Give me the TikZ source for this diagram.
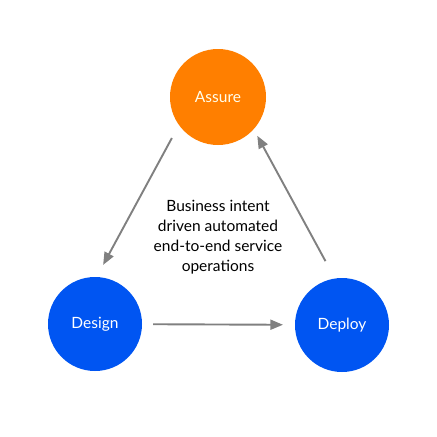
\documentclass[tikz,border=0pt]{standalone}
\usepackage{fontspec}
\setmainfont{Lato}
\usepackage{tikz}
\usetikzlibrary{arrows}
\usetikzlibrary{calc}

\definecolor{assureorange}{HTML}{FF7F00}
\definecolor{phaseblue}{HTML}{0055F2}
\definecolor{flowgray}{HTML}{808080}

\tikzset{
  phase/.style={circle, inner sep=0pt, minimum size=94pt, text=white,
    font=\fontsize{15.5}{17}\selectfont},
  flow/.style={draw=flowgray, line width=1.9pt, -triangle 45}
}

\begin{document}
\begin{tikzpicture}[x=1pt, y=-1pt]
  \fill[white] (0,0) rectangle (437,437);
  \useasboundingbox (0,0) rectangle (437,437);
  \node[phase, fill=assureorange, minimum size=96pt, text=yellow!8] (Assure) at
  (218,97) {Assure};
  \node[phase, fill=phaseblue] (Design) at (95,324) {Design};
  \node[phase, fill=phaseblue] (Deploy) at (342,325) {Deploy};
  \node[align=center, font=\fontsize{15.5}{20}\selectfont] (Intent) at
  (218,237) {Business intent\\ driven automated\\ end-to-end service\\
    operations};
 \draw[flow, shorten <=58pt, shorten >=56pt]
 ($(Assure)!21pt!-90:(Design)$) -- ($(Design)!21pt!90:(Assure)$);
 \draw[flow, shorten <=64pt, shorten >=53pt]
 ($(Deploy)!16pt!-90:(Assure)$) -- ($(Assure)!16pt!90:(Deploy)$);
 \draw[flow, shorten <=11pt, shorten >=12pt] (Design) -- (Deploy);
\end{tikzpicture}
\end{document}
